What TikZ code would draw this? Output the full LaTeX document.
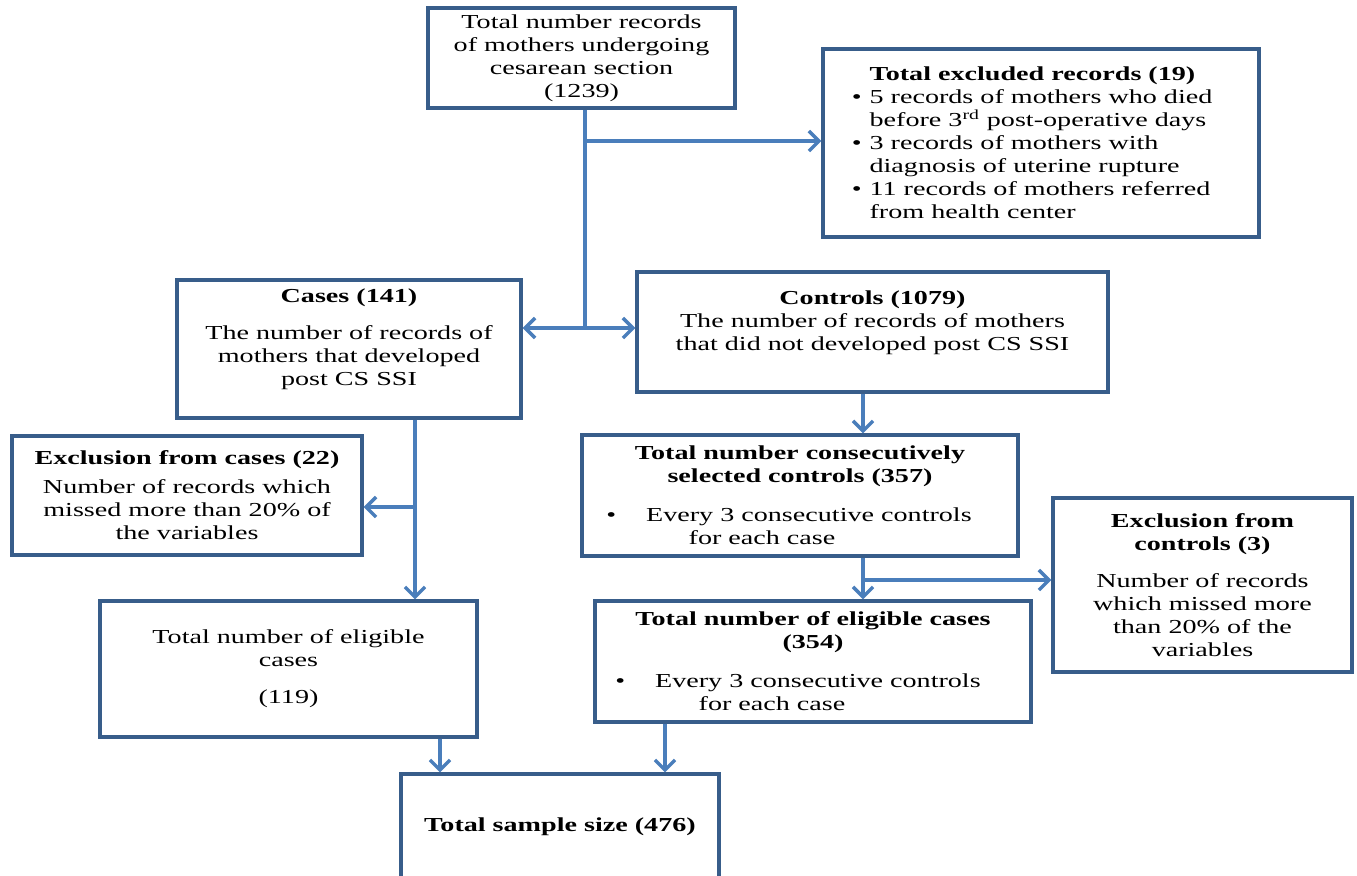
\documentclass[tikz,border=0pt]{standalone}
\usepackage{fontspec}
\setmainfont{Liberation Serif}[FakeStretch=1.42]
\usetikzlibrary{arrows.meta}
\definecolor{boxblue}{RGB}{56,93,138}
\definecolor{linkblue}{RGB}{74,126,187}

\begin{document}
\begin{tikzpicture}[x=0.5pt, y=-0.5pt, >={Straight Barb[length=5pt,width=10pt]},
    box/.style={draw=boxblue, line width=1.7pt, align=center, inner sep=2pt, font=\fontsize{9.9}{11.5}\selectfont},
    link/.style={draw=linkblue, line width=1.7pt}]
    \useasboundingbox (0,0) rectangle (1357,875);

    \node [box, minimum width=153.5pt, minimum height=50pt] (total) at (581.5,58)
        {Total number records\\ of mothers undergoing\\ cesarean section\\ (1239)};
    \node [box, align=left, minimum width=218pt, minimum height=94pt] (excl) at (1041,143)
        {\textbf{Total excluded records (19)}\\
         \llap{\textbullet\hspace{4pt}}5 records of mothers who died\\
         before 3\textsuperscript{rd} post-operative days\\
         \llap{\textbullet\hspace{4pt}}3 records of mothers with\\
         diagnosis of uterine rupture\\
         \llap{\textbullet\hspace{4pt}}11 records of mothers referred\\
         from health center};
    \node [box, minimum width=172pt, minimum height=69pt] (cases) at (349,349)
        {\textbf{Cases (141)}\\[7pt] The number of records of\\ mothers that developed\\ post CS SSI\\ \mbox{}};
    \node [box, minimum width=235.5pt, minimum height=60pt] (ctrl) at (872.5,332)
        {\textbf{Controls (1079)}\\ The number of records of mothers\\ that did not developed post CS SSI\\ \mbox{}};
    \node [box, minimum width=175pt, minimum height=59.5pt] (exccase) at (187,495.5)
        {\textbf{Exclusion from cases (22)}\\[3pt] Number of records which\\ missed more than 20\% of\\ the variables};
    \node [box, minimum width=218pt, minimum height=60.5pt] (consec) at (800,495.5)
        {\textbf{Total number consecutively}\\ \textbf{selected controls (357)}\\[8pt]
         \textbullet\hspace{15pt}Every 3 consecutive controls\hspace*{11pt}\mbox{}\\ for each case\hspace*{38pt}};
    \node [box, minimum width=149.5pt, minimum height=87pt] (excctrl) at (1202.5,585)
        {\textbf{Exclusion from}\\ \textbf{controls (3)}\\[7pt] Number of records\\ which missed more\\ than 20\% of the\\ variables};
    \node [box, minimum width=188.5pt, minimum height=68pt] (elig119) at (288.5,669)
        {Total number of eligible\\ cases\\[7pt] (119)};
    \node [box, minimum width=218pt, minimum height=60.5pt] (elig354) at (813,661.5)
        {\textbf{Total number of eligible cases}\\ \textbf{(354)}\\[8pt]
         \textbullet\hspace{15pt}Every 3 consecutive controls\hspace*{15pt}\mbox{}\\ for each case\hspace*{41pt}};
    \node [box, minimum width=159pt, minimum height=53pt] (sample) at (560,827)
        {\textbf{Total sample size (476)}};

    \coordinate (jA) at (585,141);
    \coordinate (jB) at (585,328);
    \coordinate (jC) at (415,507);
    \coordinate (jD) at (863,580);
    \coordinate (jE) at (440,756);
    \coordinate (jF) at (665,750);

    \draw [link] (jA |- total.south) -- (jB);
    \draw [link, ->] (jA) -- (jA -| excl.west);
    \draw [link, ->] (jB) -- (jB -| cases.east);
    \draw [link, ->] (jB) -- (jB -| ctrl.west);
    \draw [link, ->] (jC |- cases.south) -- (jC |- elig119.north);
    \draw [link, ->] (jC) -- (jC -| exccase.east);
    \draw [link, ->] (jD |- ctrl.south) -- (jD |- consec.north);
    \draw [link, ->] (jD |- consec.south) -- (jD |- elig354.north);
    \draw [link, ->] (jD) -- (jD -| excctrl.west);
    \draw [link, ->] (jE |- elig119.south) -- (jE |- sample.north);
    \draw [link, ->] (jF |- elig354.south) -- (jF |- sample.north);
\end{tikzpicture}
\end{document}
